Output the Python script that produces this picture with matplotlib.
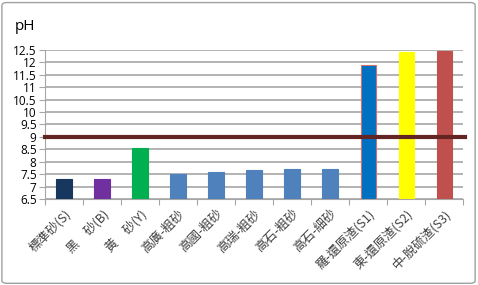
import numpy as np
import matplotlib
matplotlib.use("Agg")
import matplotlib.pyplot as plt
from matplotlib.patches import FancyBboxPatch

# data
labels = ["標準砂(S)", "黑　砂(B)", "黃　砂(Y)", "高廣-粗砂", "高國-粗砂", "高瑞-粗砂",
          "高石-粗砂", "高石-細砂", "羅-還原渣(S1)", "東-還原渣(S2)", "中-脫硫渣(S3)"]
ph_values = [7.3, 7.3, 8.55, 7.5, 7.6, 7.65, 7.7, 7.7, 11.9, 12.4, 12.45]
bar_colors = ["#17375E", "#7030A0", "#00B050", "#4F81BD", "#4F81BD", "#4F81BD",
              "#4F81BD", "#4F81BD", "#0070C0", "#FFFF00", "#C0504D"]
edge_colors = ["#17375E", "#7030A0", "#00B050", "#4F81BD", "#4F81BD", "#4F81BD",
               "#4F81BD", "#4F81BD", "#D07070", "#FFFF00", "#C0504D"]
threshold = 9
y_ticks = np.arange(6.5, 12.51, 0.5)

fig = plt.figure(figsize=(4.78, 2.85), dpi=100)
ax = fig.add_axes([0.094, 0.302, 0.875, 0.523])

# chart border
fig.patches.append(FancyBboxPatch((0.004, 0.006), 0.99, 0.985, boxstyle="round,pad=0,rounding_size=0.01",
                                  transform=fig.transFigure, fill=False, edgecolor="#A0A0A0", linewidth=1))

x = np.arange(len(labels))
ax.bar(x, [v - 6.5 for v in ph_values], bottom=6.5, width=0.4, color=bar_colors,
       edgecolor=edge_colors, linewidth=0.8, zorder=3)
ax.axhline(threshold, color="#632523", linewidth=3, zorder=4, xmin=0, xmax=1.005, clip_on=False)

ax.set_xlim(-0.5, len(labels) - 0.5)
ax.set_ylim(6.5, 12.5)
ax.set_yticks(y_ticks)
ax.set_yticklabels([f"{t:g}" for t in y_ticks], fontsize=8.5, family="Open Sans")
ax.yaxis.grid(True, color="#A6A6A6", linewidth=1.2, zorder=0)
ax.set_axisbelow(True)

ax.set_xticks(np.arange(-0.5, len(labels)), minor=False)
ax.set_xticklabels([])
ax.set_xticks(x, minor=True)
ax.set_xticklabels(labels, minor=True, rotation=45, ha="right", rotation_mode="anchor",
                   fontsize=9, family=["Noto Sans CJK TC", "DejaVu Sans"], color="#404040")
ax.tick_params(axis="x", which="minor", length=0, pad=6)
ax.tick_params(axis="x", which="major", length=4, color="#A6A6A6")
ax.tick_params(axis="y", length=4, color="#A6A6A6", pad=2)

for s in ["top", "right"]:
    ax.spines[s].set_visible(False)
for s in ["left", "bottom"]:
    ax.spines[s].set_color("#A6A6A6")

fig.text(0.031, 0.895, "pH", fontsize=11, family="Open Sans")

fig.savefig("out.png", dpi=100)
